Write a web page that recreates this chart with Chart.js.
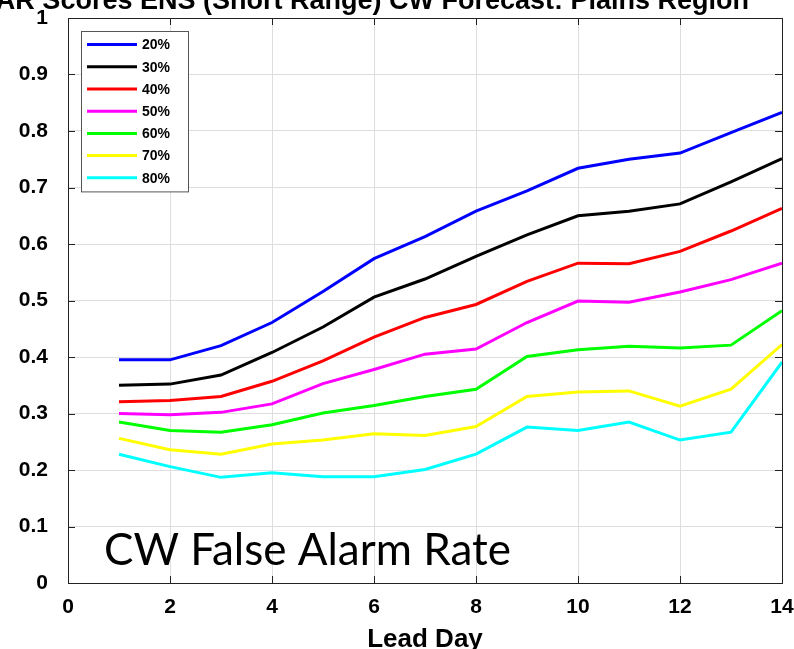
<!DOCTYPE html>
<html>
<head>
<meta charset="utf-8">
<script src="https://cdn.jsdelivr.net/npm/chart.js@4/dist/chart.umd.min.js"></script>
<style>
  html, body { margin: 0; padding: 0; background: #fff; }
  #wrap { width: 794px; height: 649px; position: relative; }
</style>
</head>
<body>
<div id="wrap"><canvas id="chart"></canvas></div>
<script>
// lead days 1..14
const leadDays = [1, 2, 3, 4, 5, 6, 7, 8, 9, 10, 11, 12, 13, 14];
const seriesLabels = ["20%", "30%", "40%", "50%", "60%", "70%", "80%"];
const seriesColors = ["#0000ff", "#000000", "#ff0000", "#ff00ff", "#00ff00", "#ffff00", "#00ffff"];

const far20 = [0.395, 0.395, 0.420, 0.461, 0.516, 0.574, 0.613, 0.658, 0.694, 0.734, 0.750, 0.761, 0.797, 0.833];
const far30 = [0.350, 0.352, 0.368, 0.408, 0.453, 0.506, 0.538, 0.578, 0.616, 0.650, 0.658, 0.671, 0.710, 0.751];
const far40 = [0.321, 0.323, 0.330, 0.357, 0.393, 0.435, 0.470, 0.493, 0.534, 0.566, 0.565, 0.587, 0.623, 0.663];
const far50 = [0.300, 0.298, 0.302, 0.317, 0.353, 0.378, 0.405, 0.414, 0.461, 0.499, 0.497, 0.515, 0.537, 0.566];
const far60 = [0.285, 0.270, 0.267, 0.280, 0.301, 0.314, 0.330, 0.343, 0.401, 0.413, 0.419, 0.416, 0.421, 0.482];
const far70 = [0.256, 0.236, 0.228, 0.246, 0.253, 0.264, 0.261, 0.277, 0.330, 0.338, 0.340, 0.313, 0.343, 0.422];
const far80 = [0.228, 0.206, 0.187, 0.195, 0.188, 0.188, 0.201, 0.228, 0.276, 0.270, 0.285, 0.253, 0.267, 0.391];
const seriesValues = [far20, far30, far40, far50, far60, far70, far80];

const yTicks = [0, 0.1, 0.2, 0.3, 0.4, 0.5, 0.6, 0.7, 0.8, 0.9, 1];
const xTicks = [0, 2, 4, 6, 8, 10, 12, 14];

const titleText = "FAR Scores ENS (Short Range) CW Forecast: Plains Region";
const noteText = "CW False Alarm Rate";

const tickFont = { family: "'Liberation Sans', Arial, sans-serif", size: 21, weight: "bold" };

// border box + inward ticks
const frameTicks = {
  id: "frameTicks",
  afterDatasetsDraw(chart) {
    const { ctx, chartArea: a, scales } = chart;
    ctx.save();
    ctx.strokeStyle = "#222";
    ctx.lineWidth = 1;
    ctx.beginPath();
    yTicks.forEach((v) => {
      const y = Math.round(scales.y.getPixelForValue(v)) + 0.5;
      ctx.moveTo(a.left, y); ctx.lineTo(a.left + 7, y);
      ctx.moveTo(a.right, y); ctx.lineTo(a.right - 7, y);
    });
    xTicks.forEach((v) => {
      const x = Math.round(scales.x.getPixelForValue(v)) + 0.5;
      ctx.moveTo(x, a.bottom); ctx.lineTo(x, a.bottom - 7);
      ctx.moveTo(x, a.top); ctx.lineTo(x, a.top + 7);
    });
    ctx.stroke();
    ctx.strokeRect(Math.round(a.left) + 0.5, Math.round(a.top) + 0.5,
      Math.round(a.right - a.left), Math.round(a.bottom - a.top));
    ctx.restore();
  },
};

// legend box in the top-left corner
const boxLegend = {
  id: "boxLegend",
  afterDraw(chart) {
    const { ctx, chartArea: a } = chart;
    const x0 = a.left + 13, y0 = a.top + 13;
    const w = 107, rowH = 22.2;
    const h = rowH * chart.data.datasets.length + 5;
    ctx.save();
    ctx.fillStyle = "#fff";
    ctx.fillRect(x0, y0, w, h);
    ctx.strokeStyle = "#555";
    ctx.lineWidth = 1;
    ctx.strokeRect(x0 + 0.5, y0 + 0.5, w, h);
    ctx.font = "bold 14px 'Liberation Sans', Arial, sans-serif";
    ctx.textBaseline = "middle";
    chart.data.datasets.forEach((ds, i) => {
      const y = y0 + 13.6 + i * rowH;
      ctx.strokeStyle = ds.borderColor;
      ctx.lineWidth = 3;
      ctx.beginPath();
      ctx.moveTo(x0 + 6, y); ctx.lineTo(x0 + 56, y);
      ctx.stroke();
      ctx.fillStyle = "#000";
      ctx.fillText(ds.label, x0 + 61, y + 1);
    });
    ctx.restore();
  },
};

// clipped title above the frame and text note inside the plot
const texts = {
  id: "texts",
  afterDraw(chart) {
    const { ctx, chartArea: a } = chart;
    ctx.save();
    ctx.fillStyle = "#000";
    ctx.font = "bold 27px 'Liberation Sans', Arial, sans-serif";
    ctx.textAlign = "right";
    ctx.textBaseline = "alphabetic";
    ctx.fillText(titleText, 749, 9);
    ctx.font = "44px Lato, 'Open Sans', sans-serif";
    ctx.textAlign = "left";
    ctx.fillText(noteText, a.left + 36, 565);
    ctx.restore();
  },
};

const datasets = seriesLabels.map((label, i) => ({
  label: label,
  data: leadDays.map((d, j) => ({ x: d, y: seriesValues[i][j] })),
  borderColor: seriesColors[i],
  backgroundColor: seriesColors[i],
  borderWidth: 3,
  pointRadius: 0,
  tension: 0,
  fill: false,
}));

new Chart(document.getElementById("chart"), {
  type: "line",
  data: { datasets: datasets },
  options: {
    responsive: true,
    maintainAspectRatio: false,
    animation: false,
    layout: { padding: { left: 0, right: 12, top: 18, bottom: 0 } },
    plugins: {
      legend: { display: false },
      title: { display: false },
      tooltip: { enabled: false },
    },
    scales: {
      x: {
        type: "linear",
        min: 0,
        max: 14,
        afterBuildTicks: (s) => { s.ticks = xTicks.map((v) => ({ value: v })); },
        afterFit: (s) => { s.height = 66; s.paddingLeft = 0; s.paddingRight = 0; },
        grid: { color: "#dedede", drawTicks: false },
        border: { display: false },
        ticks: { color: "#000", font: tickFont, padding: 12, maxRotation: 0 },
        title: {
          display: true,
          text: "Lead Day",
          color: "#000",
          font: { family: "'Liberation Sans', Arial, sans-serif", size: 26, weight: "bold" },
          padding: { top: 0, bottom: -6 },
        },
      },
      y: {
        min: 0,
        max: 1,
        afterBuildTicks: (s) => { s.ticks = yTicks.map((v) => ({ value: v })); },
        afterFit: (s) => { s.width = 68; s.paddingTop = 0; s.paddingBottom = 0; },
        grid: { color: "#dedede", drawTicks: false },
        border: { display: false },
        ticks: { color: "#000", font: tickFont, padding: 20, callback: (v) => String(v) },
      },
    },
  },
  plugins: [frameTicks, boxLegend, texts],
});
</script>
</body>
</html>
